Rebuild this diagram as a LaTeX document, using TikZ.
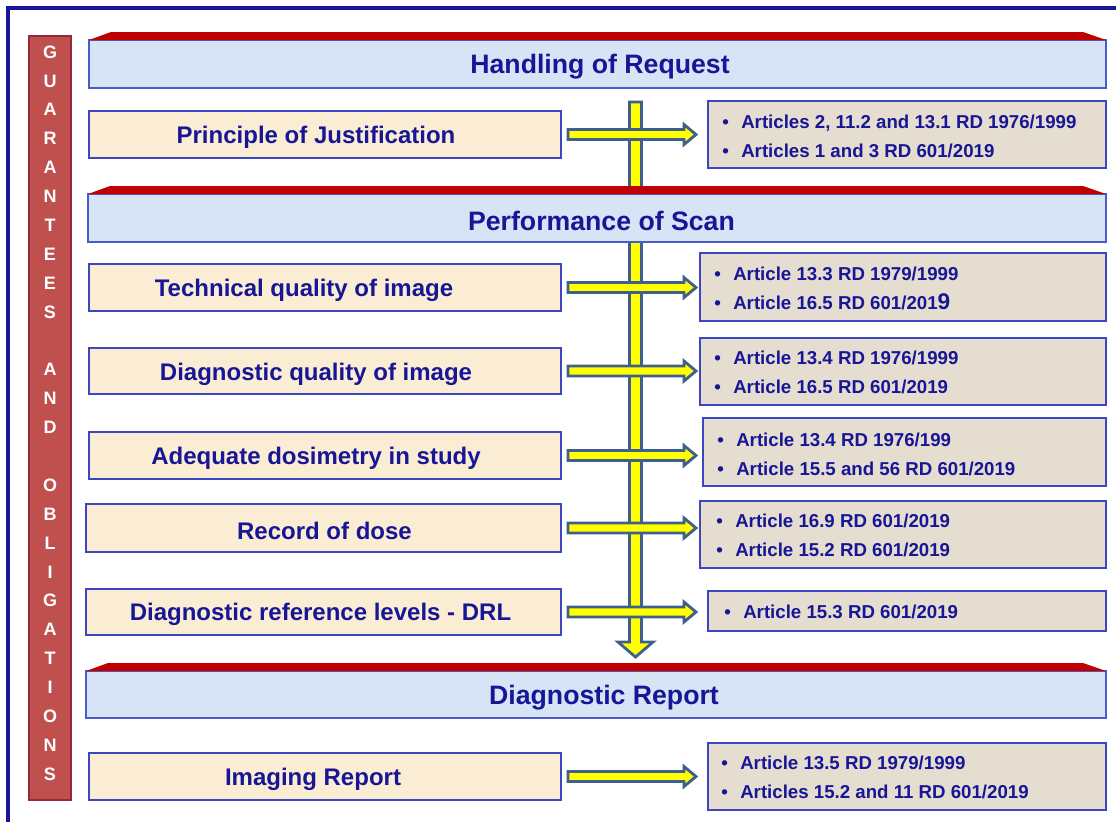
\documentclass[tikz,border=0pt]{standalone}
\usepackage{fontspec}
\setmainfont{Liberation Sans}
\usetikzlibrary{calc}
\definecolor{navy}{RGB}{22,22,150}
\definecolor{frameblue}{RGB}{24,24,150}
\definecolor{hdrfill}{RGB}{214,228,246}
\definecolor{hdrline}{RGB}{74,92,200}
\definecolor{redtop}{RGB}{190,0,0}
\definecolor{lfill}{RGB}{251,237,212}
\definecolor{rfill}{RGB}{229,221,208}
\definecolor{boxline}{RGB}{60,70,190}
\definecolor{sidefill}{RGB}{192,80,77}
\definecolor{sideline}{RGB}{150,40,60}
\definecolor{arrowline}{RGB}{64,96,140}
\definecolor{arrowfill}{RGB}{255,255,0}
\tikzset{
  hdrbox/.style={draw=hdrline, fill=hdrfill, line width=1.1pt},
  hdrtext/.style={text=navy, font=\fontsize{20}{24}\selectfont\bfseries, inner sep=0pt},
  lbox/.style={draw=boxline, fill=lfill, line width=1.1pt},
  rbox/.style={draw=boxline, fill=rfill, line width=1.1pt},
  ltext/.style={text=navy, font=\fontsize{18}{22}\selectfont\bfseries, inner sep=0pt},
  rtext/.style={text=navy, font=\fontsize{14}{21.75}\selectfont\bfseries, align=left, anchor=west, inner sep=0pt},
  sidebox/.style={draw=sideline, fill=sidefill, line width=1.1pt},
  sidetext/.style={text=white, font=\fontsize{13.5}{21.66}\selectfont\bfseries, align=center, inner sep=0pt},
  arr/.style={fill=arrowfill, draw=arrowline, line width=2.1pt, line join=miter},
}
\newcommand{\pbox}[7]{\node[#6, inner sep=0pt, outer sep=0pt,
  minimum width={(#4-#2)*0.75pt}, minimum height={(#5-#3)*0.75pt}]
  (#1) at ({(#2+#4)/2},{(#3+#5)/2}) {#7};}
\newcommand{\hdr}[7]{\pbox{#1}{#2}{#3}{#4}{#5}{hdrbox}{}
  \fill[redtop] (#1.north west) -- ++(22,-8) -- ($(#1.north east)+(-23,-8)$) -- (#1.north east) -- cycle;
  \node[hdrtext] (#1t) at ($(#1)+(#6,3)$) {#7};}
\newcommand{\harr}[2]{\draw[arr] ($(#1.east)+(7,-5)$) -- ($(#2)+(-12,-5)$) -- ($(#2)+(-12,-10)$) -- (#2) -- ($(#2)+(-12,10)$) -- ($(#2)+(-12,5)$) -- ($(#1.east)+(7,5)$) -- cycle;}
\newcommand{\bl}{\makebox[14.25pt][l]{\textbullet}}
\begin{document}
\begin{tikzpicture}[x=0.75pt,y=-0.75pt]
\useasboundingbox (0,0) rectangle (1116,822);
\fill[white] (0,0) rectangle (1116,822);
% outer frame
\draw[frameblue, line width=2.4pt] (8,822) -- (8,8) -- (1116,8);
% side bar
\pbox{side}{29}{36}{71}{800}{sidebox}{}
\node[sidetext] (sidet) at (50,413) {G\\U\\A\\R\\A\\N\\T\\E\\E\\S\\\mbox{}\\A\\N\\D\\\mbox{}\\O\\B\\L\\I\\G\\A\\T\\I\\O\\N\\S};
% vertical arrow
\coordinate (vs) at (635.5,102);
\coordinate (ve) at (635.5,657);
\draw[arr] ($(vs)+(-6,0)$) -- ($(ve)+(-6,-15)$) -- ($(ve)+(-17.5,-15)$) -- (ve) -- ($(ve)+(17.5,-15)$) -- ($(ve)+(6,-15)$) -- ($(vs)+(6,0)$) -- cycle;
% headers
\hdr{h1}{89}{40}{1106}{88}{2.5}{Handling of Request}
\hdr{h2}{88}{194}{1106}{242}{4.5}{Performance of Scan}
\hdr{h3}{86}{671}{1106}{718}{8}{Diagnostic Report}
% left boxes
\pbox{l1}{89}{111}{561}{158}{lbox}{}
\pbox{l2}{89}{264}{561}{311}{lbox}{}
\pbox{l3}{89}{348}{561}{394}{lbox}{}
\pbox{l4}{89}{432}{561}{479}{lbox}{}
\pbox{l5}{86}{504}{561}{552}{lbox}{}
\pbox{l6}{86}{589}{561}{635}{lbox}{}
\pbox{l7}{89}{753}{561}{800}{lbox}{}
\node[ltext] (l1t) at ($(l1)+(-9,3)$) {Principle of Justification};
\node[ltext] (l2t) at ($(l2)+(-21,3)$) {Technical quality of image};
\node[ltext] (l3t) at ($(l3)+(-9,3)$) {Diagnostic quality of image};
\node[ltext] (l4t) at ($(l4)+(-9,3)$) {Adequate dosimetry in study};
\node[ltext] (l5t) at ($(l5)+(1,3)$) {Record of dose};
\node[ltext] (l6t) at ($(l6)+(-3,2)$) {Diagnostic reference levels - DRL};
\node[ltext] (l7t) at ($(l7)+(-12,3)$) {Imaging Report};
% right boxes
\pbox{r1}{708}{101}{1106}{168}{rbox}{}
\pbox{r2}{700}{253}{1106}{321}{rbox}{}
\pbox{r3}{700}{338}{1106}{405}{rbox}{}
\pbox{r4}{703}{418}{1106}{486}{rbox}{}
\pbox{r5}{700}{501}{1106}{568}{rbox}{}
\pbox{r6}{708}{591}{1106}{631}{rbox}{}
\pbox{r7}{708}{743}{1106}{810}{rbox}{}
\node[rtext] (r1t) at ($(r1.west)+(14,2)$) {\bl Articles 2, 11.2 and 13.1 RD 1976/1999\\\bl Articles 1 and 3 RD 601/2019};
\node[rtext] (r2t) at ($(r2.west)+(14,1)$) {\bl Article 13.3 RD 1979/1999\\\bl Article 16.5 RD 601/201{\fontsize{17}{17}\selectfont 9}};
\node[rtext] (r3t) at ($(r3.west)+(14,1)$) {\bl Article 13.4 RD 1976/1999\\\bl Article 16.5 RD 601/2019};
\node[rtext] (r4t) at ($(r4.west)+(14,2)$) {\bl Article 13.4 RD 1976/199\\\bl Article 15.5 and 56 RD 601/2019};
\node[rtext] (r5t) at ($(r5.west)+(16,1)$) {\bl Article 16.9 RD 601/2019\\\bl Article 15.2 RD 601/2019};
\node[rtext] (r6t) at ($(r6.west)+(16,1)$) {\bl Article 15.3 RD 601/2019};
\node[rtext] (r7t) at ($(r7.west)+(13,1)$) {\bl Article 13.5 RD 1979/1999\\\bl Articles 15.2 and 11 RD 601/2019};
% horizontal arrows
\coordinate (tipx) at (696,0);
\foreach \i in {1,...,7} {
  \coordinate (t\i) at (l\i.east -| tipx);
  \harr{l\i}{t\i}
}
\end{tikzpicture}
\end{document}
